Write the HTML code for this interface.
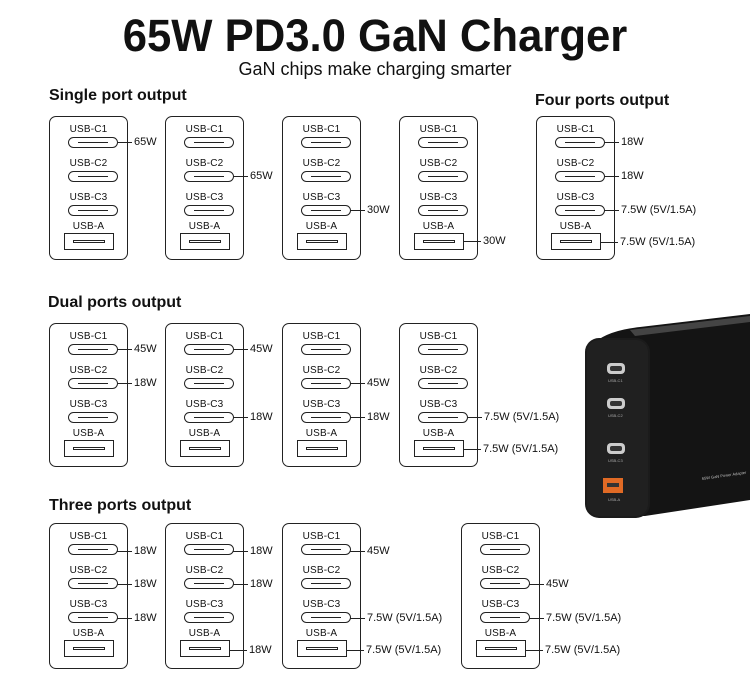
<!DOCTYPE html>
<html><head><meta charset="utf-8"><style>
body{margin:0;width:750px;height:684px;background:#fff;position:relative;overflow:hidden;font-family:"Liberation Sans",sans-serif;color:#111}
.t{position:absolute;white-space:nowrap}
.h{position:absolute;font-weight:bold;font-size:16px;white-space:nowrap}
.p{position:absolute;width:79px;height:144px;border:1.5px solid #222;border-radius:7px;box-sizing:border-box}
.p>b{position:absolute;left:0;width:100%;text-align:center;font-weight:normal;font-size:10px;line-height:10px;letter-spacing:0.2px}
.p>s{position:absolute;left:18px;width:50px;height:11px;border:1.3px solid #222;border-radius:6px;box-sizing:border-box}
.p>s::after{content:"";position:absolute;left:9px;right:9px;top:4px;height:1.3px;background:#222}
.p>u{position:absolute;left:14px;top:116px;width:50px;height:17px;border:1.3px solid #222;box-sizing:border-box}
.p>u::after{content:"";position:absolute;left:8px;right:8px;top:6px;height:3px;border:1.2px solid #222;box-sizing:border-box}
.w{position:absolute;left:67px;font-size:11px;line-height:12px;padding-left:17px;margin-top:-6px;white-space:nowrap;font-style:normal}
.w::before{content:"";position:absolute;left:0;top:6px;width:15px;height:1.3px;background:#222}
.a{left:63px;padding-left:20px}
.a::before{width:18px}
</style></head><body>
<div class="t" style="left:0;width:750px;text-align:center;top:10px;font-size:45px;font-weight:bold;transform:scaleX(0.97)">65W PD3.0 GaN Charger</div>
<div class="t" style="left:0;width:750px;text-align:center;top:59px;font-size:18px">GaN chips make charging smarter</div>
<div class="h" style="left:49px;top:87px">Single port output</div>
<div class="h" style="left:535px;top:92px">Four ports output</div>
<div class="h" style="left:48px;top:294px">Dual ports output</div>
<div class="h" style="left:49px;top:497px">Three ports output</div>

<!-- row 1 -->
<div class="p" style="left:49px;top:116px"><b style="top:8px">USB-C1</b><s style="top:20px"></s><b style="top:42px">USB-C2</b><s style="top:54px"></s><b style="top:76px">USB-C3</b><s style="top:88px"></s><b style="top:105px">USB-A</b><u></u>
<i class="w" style="top:25px">65W</i></div>
<div class="p" style="left:165px;top:116px"><b style="top:8px">USB-C1</b><s style="top:20px"></s><b style="top:42px">USB-C2</b><s style="top:54px"></s><b style="top:76px">USB-C3</b><s style="top:88px"></s><b style="top:105px">USB-A</b><u></u>
<i class="w" style="top:59px">65W</i></div>
<div class="p" style="left:282px;top:116px"><b style="top:8px">USB-C1</b><s style="top:20px"></s><b style="top:42px">USB-C2</b><s style="top:54px"></s><b style="top:76px">USB-C3</b><s style="top:88px"></s><b style="top:105px">USB-A</b><u></u>
<i class="w" style="top:93px">30W</i></div>
<div class="p" style="left:399px;top:116px"><b style="top:8px">USB-C1</b><s style="top:20px"></s><b style="top:42px">USB-C2</b><s style="top:54px"></s><b style="top:76px">USB-C3</b><s style="top:88px"></s><b style="top:105px">USB-A</b><u></u>
<i class="w a" style="top:124px">30W</i></div>
<div class="p" style="left:536px;top:116px"><b style="top:8px">USB-C1</b><s style="top:20px"></s><b style="top:42px">USB-C2</b><s style="top:54px"></s><b style="top:76px">USB-C3</b><s style="top:88px"></s><b style="top:105px">USB-A</b><u></u>
<i class="w" style="top:25px">18W</i><i class="w" style="top:59px">18W</i><i class="w" style="top:93px">7.5W (5V/1.5A)</i><i class="w a" style="top:125px">7.5W (5V/1.5A)</i></div>

<!-- row 2 -->
<div class="p" style="left:49px;top:323px"><b style="top:8px">USB-C1</b><s style="top:20px"></s><b style="top:42px">USB-C2</b><s style="top:54px"></s><b style="top:76px">USB-C3</b><s style="top:88px"></s><b style="top:105px">USB-A</b><u></u>
<i class="w" style="top:25px">45W</i><i class="w" style="top:59px">18W</i></div>
<div class="p" style="left:165px;top:323px"><b style="top:8px">USB-C1</b><s style="top:20px"></s><b style="top:42px">USB-C2</b><s style="top:54px"></s><b style="top:76px">USB-C3</b><s style="top:88px"></s><b style="top:105px">USB-A</b><u></u>
<i class="w" style="top:25px">45W</i><i class="w" style="top:93px">18W</i></div>
<div class="p" style="left:282px;top:323px"><b style="top:8px">USB-C1</b><s style="top:20px"></s><b style="top:42px">USB-C2</b><s style="top:54px"></s><b style="top:76px">USB-C3</b><s style="top:88px"></s><b style="top:105px">USB-A</b><u></u>
<i class="w" style="top:59px">45W</i><i class="w" style="top:93px">18W</i></div>
<div class="p" style="left:399px;top:323px"><b style="top:8px">USB-C1</b><s style="top:20px"></s><b style="top:42px">USB-C2</b><s style="top:54px"></s><b style="top:76px">USB-C3</b><s style="top:88px"></s><b style="top:105px">USB-A</b><u></u>
<i class="w" style="top:93px">7.5W (5V/1.5A)</i><i class="w a" style="top:125px">7.5W (5V/1.5A)</i></div>

<!-- row 3 -->
<div class="p" style="left:49px;top:523px;height:146px"><b style="top:8px">USB-C1</b><s style="top:20px"></s><b style="top:42px">USB-C2</b><s style="top:54px"></s><b style="top:76px">USB-C3</b><s style="top:88px"></s><b style="top:105px">USB-A</b><u></u>
<i class="w" style="top:27px">18W</i><i class="w" style="top:60px">18W</i><i class="w" style="top:94px">18W</i></div>
<div class="p" style="left:165px;top:523px;height:146px"><b style="top:8px">USB-C1</b><s style="top:20px"></s><b style="top:42px">USB-C2</b><s style="top:54px"></s><b style="top:76px">USB-C3</b><s style="top:88px"></s><b style="top:105px">USB-A</b><u></u>
<i class="w" style="top:27px">18W</i><i class="w" style="top:60px">18W</i><i class="w a" style="top:126px">18W</i></div>
<div class="p" style="left:282px;top:523px;height:146px"><b style="top:8px">USB-C1</b><s style="top:20px"></s><b style="top:42px">USB-C2</b><s style="top:54px"></s><b style="top:76px">USB-C3</b><s style="top:88px"></s><b style="top:105px">USB-A</b><u></u>
<i class="w" style="top:27px">45W</i><i class="w" style="top:94px">7.5W (5V/1.5A)</i><i class="w a" style="top:126px">7.5W (5V/1.5A)</i></div>
<div class="p" style="left:461px;top:523px;height:146px"><b style="top:8px">USB-C1</b><s style="top:20px"></s><b style="top:42px">USB-C2</b><s style="top:54px"></s><b style="top:76px">USB-C3</b><s style="top:88px"></s><b style="top:105px">USB-A</b><u></u>
<i class="w" style="top:60px">45W</i><i class="w" style="top:94px">7.5W (5V/1.5A)</i><i class="w a" style="top:126px">7.5W (5V/1.5A)</i></div>

<!-- charger -->
<svg style="position:absolute;left:570px;top:300px" width="180" height="220" viewBox="0 0 180 220">
<path d="M25 42 Q40 30 70 27 L180 14 L180 200 L75 216 L30 216 Z" fill="#141414"/>
<path d="M60 30 L180 16 L180 22 L65 36 Z" fill="#444"/>
<rect x="15" y="38" width="65" height="180" rx="14" fill="#1b1b1b"/>
<rect x="17" y="40" width="61" height="176" rx="12" fill="#202020"/>
<rect x="37" y="63" width="18" height="11" rx="4" fill="#ccc"/><rect x="40" y="66" width="12" height="5" rx="2" fill="#333"/>
<rect x="37" y="98" width="18" height="11" rx="4" fill="#ccc"/><rect x="40" y="101" width="12" height="5" rx="2" fill="#333"/>
<rect x="37" y="143" width="18" height="11" rx="4" fill="#ccc"/><rect x="40" y="146" width="12" height="5" rx="2" fill="#333"/>
<rect x="33" y="178" width="20" height="15" fill="#e06a25"/><rect x="37" y="183" width="12" height="4" fill="#333"/>
<text x="38" y="82" font-size="4" fill="#aaa" font-family="Liberation Sans">USB-C1</text>
<text x="38" y="117" font-size="4" fill="#aaa" font-family="Liberation Sans">USB-C2</text>
<text x="38" y="162" font-size="4" fill="#aaa" font-family="Liberation Sans">USB-C3</text>
<text x="38" y="201" font-size="4" fill="#aaa" font-family="Liberation Sans">USB-A</text>
<text x="132" y="180" font-size="4" fill="#bbb" font-family="Liberation Sans" transform="rotate(-8 132 180)">65W GaN Power Adapter</text>
</svg>
</body></html>
